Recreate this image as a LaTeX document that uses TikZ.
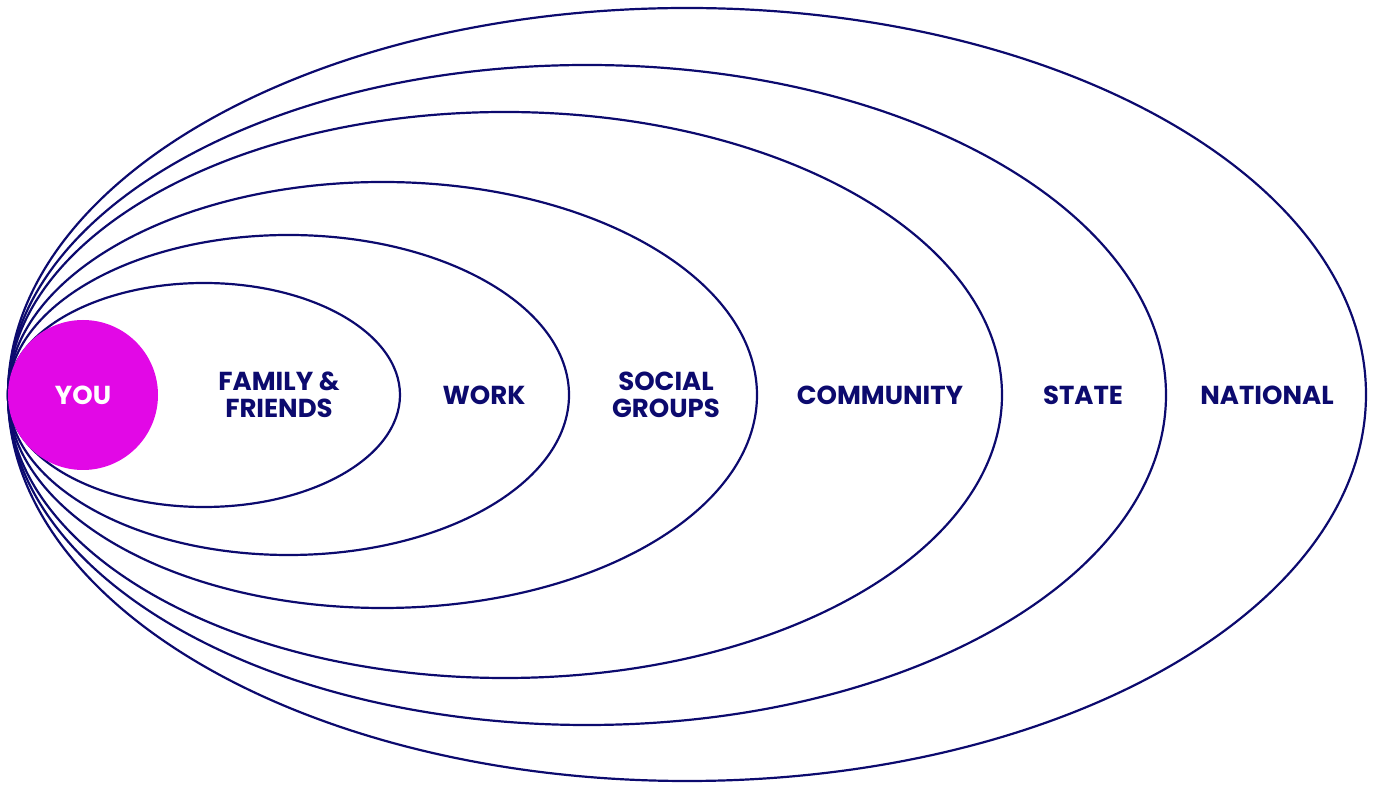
\documentclass[tikz,border=0pt]{standalone}
\usepackage{fontspec}
\setmainfont{Poppins}[BoldFont={* Bold}]
\definecolor{navy}{RGB}{12,10,110}
\definecolor{magenta}{RGB}{226,8,230}
\begin{document}
\begin{tikzpicture}[x=0.5pt,y=-0.5pt,
  ring/.style={draw=navy,line width=1.1pt},
  lbl/.style={text=navy,font=\bfseries\fontsize{13}{13.5}\selectfont,align=center,inner sep=0pt},
  you/.style={circle,fill=magenta,minimum size=75pt,inner sep=0pt,text=white,font=\bfseries\fontsize{13}{13.5}\selectfont}]
\useasboundingbox (0,0) rectangle (1373,785);
\draw[ring] (687,394.5) ellipse [x radius=339.5pt,y radius=193.25pt];
\draw[ring] (587,395) ellipse [x radius=289.5pt,y radius=165pt];
\draw[ring] (505,395) ellipse [x radius=248.5pt,y radius=141.5pt];
\draw[ring] (382.5,395) ellipse [x radius=187.25pt,y radius=106.5pt];
\draw[ring] (288.5,395) ellipse [x radius=140.25pt,y radius=80pt];
\draw[ring] (204,395) ellipse [x radius=98pt,y radius=56pt];
\node[you] (you) at (83,395) {YOU};
\node[lbl] (family) at (279,395) {FAMILY \&\\FRIENDS};
\node[lbl] (work) at (484,395) {WORK};
\node[lbl] (social) at (666,395) {SOCIAL\\GROUPS};
\node[lbl] (community) at (880,395) {COMMUNITY};
\node[lbl] (state) at (1083,395) {STATE};
\node[lbl] (national) at (1267,395) {NATIONAL};
\end{tikzpicture}
\end{document}
